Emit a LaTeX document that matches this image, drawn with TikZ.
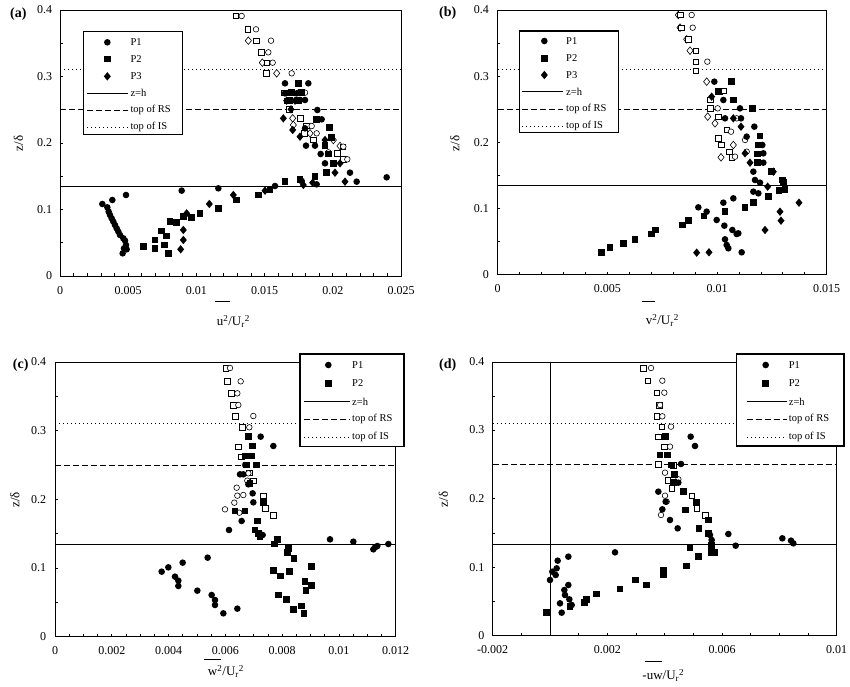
\documentclass[tikz,border=0pt]{standalone}
\usepackage{fontspec}
\setmainfont{Liberation Serif}
\newcommand\Fc[1]{\foreach \p in {#1}{\fill \p circle[radius=3.3pt];}}
\newcommand\Fs[1]{\foreach \p in {#1}{\fill \p ++(-3.2pt,-3.2pt) rectangle ++(6.4pt,6.4pt);}}
\newcommand\Fd[1]{\foreach \p in {#1}{\fill \p ++(0,4.2pt) -- ++(3.5pt,-4.2pt) -- ++(-3.5pt,-4.2pt) -- ++(-3.5pt,4.2pt) -- cycle;}}
\newcommand\Oc[1]{\foreach \p in {#1}{\filldraw[fill=white,line width=0.6pt] \p circle[radius=2.8pt];}}
\newcommand\Os[1]{\foreach \p in {#1}{\filldraw[fill=white,line width=0.6pt] \p ++(-2.8pt,-2.8pt) rectangle ++(5.6pt,5.6pt);}}
\newcommand\Od[1]{\foreach \p in {#1}{\filldraw[fill=white,line width=0.6pt] \p ++(0,3.8pt) -- ++(3.1pt,-3.8pt) -- ++(-3.1pt,-3.8pt) -- ++(-3.1pt,3.8pt) -- cycle;}}
% frame: left right top bottom nx
\newcommand\Frame[5]{%
  \draw[frame] (#1,#3) rectangle (#2,#4);
  \pgfmathsetmacro\dx{(#2-#1)/#5}
  \pgfmathsetmacro\dy{(#4-#3)/8}
  \foreach \i in {1,...,#5}{\draw[tick] (#1+\i*\dx,#4) -- ++(0,-8);}
  \foreach \j in {1,...,7}{\draw[tick] (#1,#4-\j*\dy) -- ++(8,0);}
}
\tikzset{
  frame/.style={line width=0.9pt},
  tick/.style={line width=0.7pt},
  hz/.style={line width=0.8pt},
  rs/.style={line width=0.8pt,dash pattern=on 6pt off 3pt},
  is/.style={line width=0.8pt,dash pattern=on 1pt off 3pt},
  tl/.style={font=\fontsize{12}{12}\selectfont,inner sep=1pt},
  axt/.style={font=\fontsize{13}{13}\selectfont,inner sep=1pt},
  pl/.style={font=\fontsize{14}{14}\selectfont\bfseries,inner sep=1pt},
  lg/.style={font=\fontsize{10.5}{10.5}\selectfont,inner sep=1pt,anchor=west},
  lgbox/.style={draw,fill=white,line width=1.2pt}
}
\begin{document}
\begin{tikzpicture}[x=1pt,y=1pt]
\useasboundingbox (0,0) rectangle (850,686);
\fill[white] (0,0) rectangle (850,686);
% ================= (a)
\begin{scope}[xshift=0pt,yshift=686pt,x=0.33333pt,y=-0.33333pt]
\draw[hz] (180,558.7) -- (1203,558.7);
\draw[rs] (180,329.3) -- (1203,329.3);
\draw[is] (180,209.3) -- (1203,209.3);
\Frame{180}{1203}{30}{828}{25}
\foreach \v/\l [count=\k] in {0/0,1/0.005,2/0.01,3/0.015,4/0.02,5/0.025}{\node[tl] (ax\k) at (180+\v*204.6,872) {\l};}
\foreach \v/\l [count=\k] in {0/0,1/0.1,2/0.2,3/0.3,4/0.4}{\node[tl,anchor=east] (ay\k) at (160,828-\v*199.5) {\l};}
\node[axt,rotate=90] (aty) at (55,430) {z/δ};
\node[axt] (atx) at (700,965) {u\textsuperscript{2}/U\textsubscript{r}\textsuperscript{2}};
\draw[line width=0.8pt] (645,905) -- (690,905);
\node[pl] (pa) at (55,42) {(a)};
\Od{(745,122),(787,188),(830,220),(878,355),(880,375),(930,400),(1020,438),(1000,420)}
\Os{(707,48),(743,88),(768,122),(783,157),(800,188),(798,220),(853,278),(862,302),(868,328),(900,355),(918,378),(912,400),(940,420),(1028,440),(1012,460),(1030,478)}
\Oc{(725,48),(768,88),(813,122),(805,157),(818,188),(875,220),(895,278),(915,278),(935,378),(985,457),(1030,440),(1042,478),(950,400)}
\Fc{(307,612),(337,600),(322,622),(326,635),(330,645),(335,655),(340,665),(345,675),(350,685),(355,695),(360,705),(370,715),(375,722),(378,735),(372,745),(380,748),(368,760),(378,585),(545,572),(655,565),(825,558),(905,543),(950,553),(1050,518),(1070,545),(1160,532),(855,250),(925,250),(952,330),(965,358),(915,385),(918,437),(945,437),(962,462),(975,490),(855,280),(890,280),(900,300),(915,300)}
\Fs{(430,740),(465,720),(465,745),(485,693),(500,708),(493,735),(505,760),(510,665),(530,668),(550,650),(575,652),(600,640),(655,625),(710,600),(775,585),(810,570),(855,545),(900,538),(945,530),(895,250),(875,278),(905,278),(870,302),(895,302),(950,358),(988,383),(995,412),(975,437),(980,518),(1000,490),(985,462)}
\Fd{(550,690),(550,720),(542,748),(560,640),(628,612),(700,585),(795,572),(910,555),(938,548),(1005,518),(1035,545),(1020,490),(850,355),(873,328),(878,390),(900,410),(860,302),(885,302),(975,420)}
\draw[lgbox] (250,95) rectangle (547,403);
\Fc{(322,127)} \Fs{(322,177)} \Fd{(322,229)}
\draw[hz] (262,280) -- (385,280);
\draw[rs] (262,330) -- (385,330);
\draw[is] (262,381) -- (385,381);
\node[lg] (la1) at (388,127) {P1};
\node[lg] (la2) at (388,177) {P2};
\node[lg] (la3) at (388,229) {P3};
\node[lg] (la4) at (388,280) {z=h};
\node[lg] (la5) at (388,330) {top of RS};
\node[lg] (la6) at (388,381) {top of IS};
\end{scope}
% ================= (b)
\begin{scope}[xshift=425pt,yshift=686pt,x=0.33333pt,y=-0.33333pt]
\draw[hz] (218,556) -- (1205,556);
\draw[rs] (218,327.8) -- (1205,327.8);
\draw[is] (218,208.7) -- (1205,208.7);
\Frame{218}{1205}{30}{824}{15}
\foreach \v/\l [count=\k] in {0/0,1/0.005,2/0.01,3/0.015}{\node[tl] (bx\k) at (218+\v*329,867) {\l};}
\foreach \v/\l [count=\k] in {0/0,1/0.1,2/0.2,3/0.3,4/0.4}{\node[tl,anchor=east] (by\k) at (195,824-\v*198.5) {\l};}
\node[axt,rotate=90] (bty) at (90,430) {z/δ};
\node[axt] (btx) at (712,962) {v\textsuperscript{2}/U\textsubscript{r}\textsuperscript{2}};
\draw[line width=0.8pt] (650,903) -- (690,903);
\node[pl] (pb) at (68,40) {(b)};
\Od{(760,45),(765,83),(785,118),(795,152),(848,350),(870,370),(888,472),(925,435),(845,245)}
\Os{(765,45),(768,83),(790,118),(812,152),(812,185),(812,213),(855,300),(882,275),(880,350),(905,390),(880,415),(888,435),(912,455),(920,472),(855,325),(895,272)}
\Oc{(800,45),(803,83),(847,185),(878,325),(918,395),(935,355),(960,420),(965,455),(930,470)}
\Fc{(868,245),(895,300),(945,325),(900,355),(948,355),(988,380),(965,410),(1012,435),(1015,460),(1015,488),(985,515),(990,540),(1005,548),(985,575),(1000,580),(925,595),(895,608),(820,622),(845,635),(875,660),(898,677),(922,690),(940,700),(900,718),(905,735),(910,745),(950,757),(935,702)}
\Fs{(530,757),(555,743),(595,730),(630,718),(680,702),(692,690),(773,675),(790,662),(837,648),(900,635),(960,622),(985,608),(1030,590),(1062,572),(1075,548),(1072,540),(1080,568),(1040,515),(1005,408),(1000,435),(998,462),(998,488),(982,325),(925,300),(880,275),(920,245)}
\Fd{(1122,608),(1065,635),(1068,662),(1020,690),(852,757),(815,758),(975,488),(1028,560),(960,460),(948,380),(1045,515),(860,290),(925,355)}
\draw[lgbox] (283,93) rectangle (580,398);
\Fc{(358,123)} \Fs{(358,175)} \Fd{(358,225)}
\draw[hz] (292,275) -- (415,275);
\draw[rs] (292,328) -- (415,328);
\draw[is] (292,378) -- (415,378);
\node[lg] (lb1) at (420,123) {P1};
\node[lg] (lb2) at (420,175) {P2};
\node[lg] (lb3) at (420,225) {P3};
\node[lg] (lb4) at (420,275) {z=h};
\node[lg] (lb5) at (420,328) {top of RS};
\node[lg] (lb6) at (420,378) {top of IS};
\end{scope}
% ================= (c)
\begin{scope}[xshift=0pt,yshift=346pt,x=0.33333pt,y=-0.33333pt]
\draw[hz] (165,611.9) -- (1187,611.9);
\draw[rs] (165,375) -- (1187,375);
\draw[is] (165,251.4) -- (1187,251.4);
\Frame{165}{1187}{66}{890}{24}
\foreach \v/\l [count=\k] in {0/0,1/0.002,2/0.004,3/0.006,4/0.008,5/0.01,6/0.012}{\node[tl] (cx\k) at (165+\v*170.33,932) {\l};}
\foreach \v/\l [count=\k] in {0/0,1/0.1,2/0.2,3/0.3,4/0.4}{\node[tl,anchor=east] (cy\k) at (142,890-\v*206) {\l};}
\node[axt,rotate=90] (cty) at (45,480) {z/δ};
\node[axt] (ctx) at (678,995) {w\textsuperscript{2}/U\textsubscript{r}\textsuperscript{2}};
\draw[line width=0.8pt] (612,957) -- (662,957);
\node[pl] (pc) at (62,75) {(c)};
\Os{(677,84),(682,124),(693,160),(700,195),(705,228),(727,262),(714,320),(723,350),(748,398),(760,422),(790,467),(795,505),(820,525)}
\Oc{(690,84),(722,124),(712,160),(715,195),(760,228),(748,262),(735,375),(710,443),(703,488),(712,467),(718,518),(730,465),(745,400),(742,422),(675,508)}
\Fc{(485,695),(505,682),(525,710),(535,722),(535,738),(548,668),(592,752),(623,653),(635,765),(645,780),(645,795),(670,820),(712,806),(687,570),(725,543),(720,403),(730,403),(745,433),(758,460),(760,487),(782,290),(820,318),(788,585),(990,598),(1060,605),(1120,628),(1125,622),(1132,618),(1165,612)}
\Fs{(820,692),(842,708),(868,695),(835,765),(860,778),(880,808),(905,798),(912,820),(918,752),(915,725),(935,680),(935,737),(882,655),(862,638),(865,625),(823,612),(833,598),(780,590),(775,580),(765,570),(772,543),(790,488),(705,513),(735,513),(757,318),(745,290),(735,348),(755,348),(740,375),(770,375),(750,430)}
\draw[lgbox] (900,42) rectangle (1212,320);
\Fc{(985,75)} \Fs{(985,130)}
\draw[hz] (912,185) -- (1050,185);
\draw[rs] (912,238) -- (1050,238);
\draw[is] (912,292) -- (1050,292);
\node[lg] (lc1) at (1053,75) {P1};
\node[lg] (lc2) at (1053,130) {P2};
\node[lg] (lc4) at (1053,185) {z=h};
\node[lg] (lc5) at (1053,238) {top of RS};
\node[lg] (lc6) at (1053,292) {top of IS};
\end{scope}
% ================= (d)
\begin{scope}[xshift=425pt,yshift=346pt,x=0.33333pt,y=-0.33333pt]
\draw[hz] (203,612.3) -- (1235,612.3);
\draw[rs] (203,372.8) -- (1235,372.8);
\draw[is] (203,249.3) -- (1235,249.3);
\draw[hz] (375,66) -- (375,887);
\Frame{203}{1235}{66}{887}{12}
\foreach \v/\l [count=\k] in {0/-0.002,1/0.002,2/0.006,3/0.01}{\node[tl] (dx\k) at (203+\v*344,929) {\l};}
\foreach \v/\l [count=\k] in {0/0,1/0.1,2/0.2,3/0.3,4/0.4}{\node[tl,anchor=east] (dy\k) at (182,887-\v*205.7) {\l};}
\node[axt,rotate=90] (dty) at (55,478) {z/δ};
\node[axt] (dtx) at (715,1007) {-uw/U\textsubscript{r}\textsuperscript{2}};
\draw[line width=0.8pt] (660,965) -- (712,965);
\node[pl] (pd) at (68,75) {(d)};
\Os{(655,84),(668,122),(695,158),(703,195),(695,229),(710,260),(700,290),(718,320),(700,372),(728,420),(740,445),(800,467),(815,505),(840,525),(745,375)}
\Oc{(678,84),(712,122),(718,158),(705,195),(712,229),(738,260),(735,320),(720,398),(720,467),(708,525),(725,485),(760,418)}
\Fc{(375,720),(382,695),(395,685),(398,662),(430,650),(392,705),(405,790),(410,818),(418,750),(420,765),(430,735),(433,778),(440,795),(570,637),(700,455),(712,508),(722,485),(735,540),(758,565),(768,372),(760,428),(797,290),(810,318),(910,582),(932,617),(1072,595),(1098,602),(1105,610),(855,585),(860,600)}
\Fs{(365,818),(435,800),(478,788),(485,778),(515,762),(585,747),(632,720),(665,735),(715,705),(715,690),(785,678),(795,622),(820,650),(860,637),(870,638),(860,617),(850,580),(822,565),(850,540),(782,510),(815,488),(775,455),(748,403),(740,375),(728,345),(722,290),(705,345),(745,428)}
\draw[lgbox] (935,42) rectangle (1257,318);
\Fc{(1022,75)} \Fs{(1022,130)}
\draw[hz] (965,185) -- (1085,185);
\draw[rs] (965,238) -- (1085,238);
\draw[is] (965,292) -- (1085,292);
\node[lg] (ld1) at (1088,75) {P1};
\node[lg] (ld2) at (1088,130) {P2};
\node[lg] (ld4) at (1088,185) {z=h};
\node[lg] (ld5) at (1088,238) {top of RS};
\node[lg] (ld6) at (1088,292) {top of IS};
\end{scope}
\end{tikzpicture}
\end{document}
